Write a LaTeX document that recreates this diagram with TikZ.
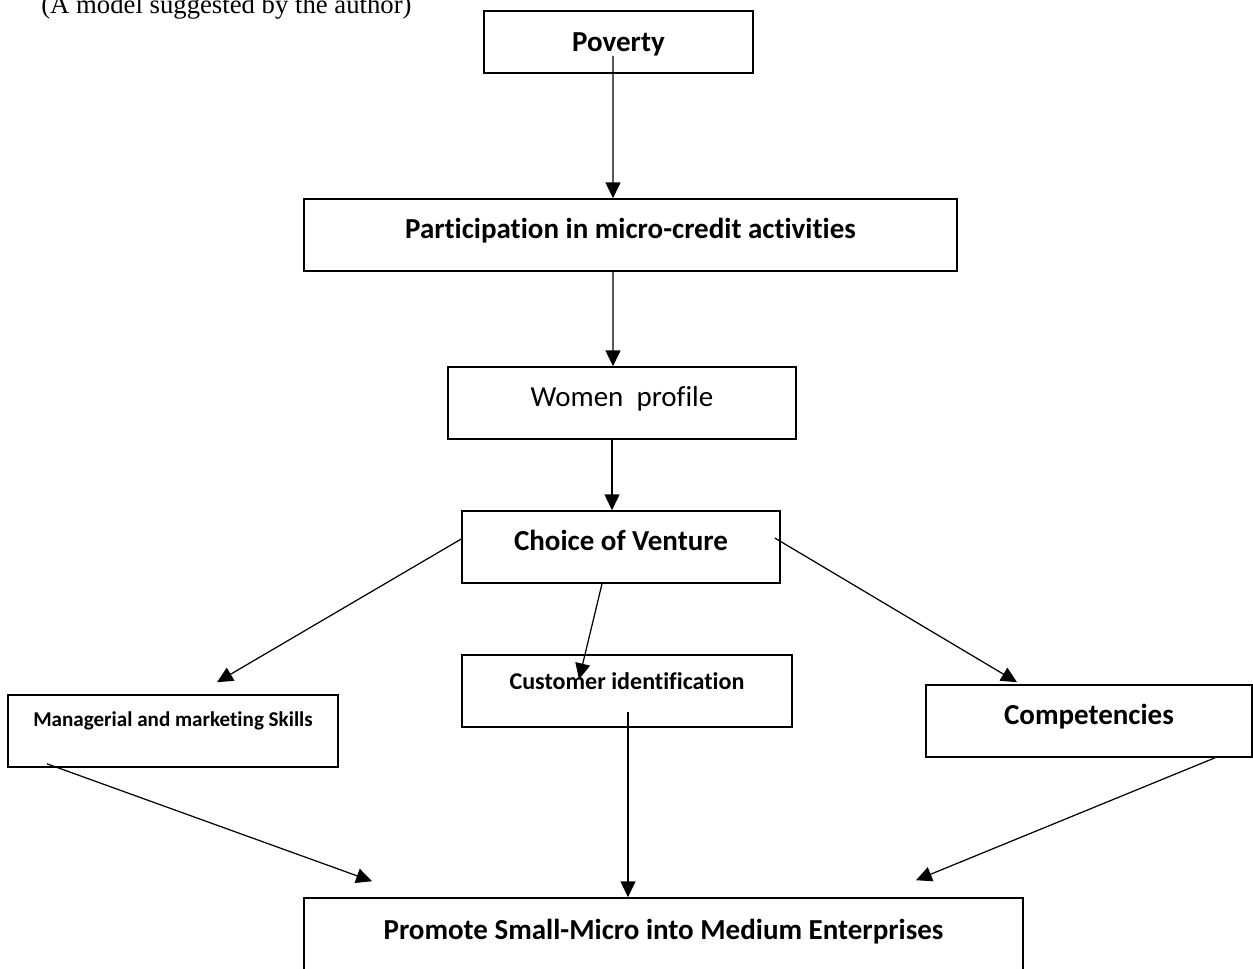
\documentclass[tikz,border=0pt]{standalone}
\usepackage{fontspec}
\setmainfont{Carlito}[Ligatures=NoCommon]
\newfontfamily\capfont{Liberation Serif}
\usepackage{xcolor}
\usetikzlibrary{arrows.meta}
\definecolor{ink}{RGB}{0,0,0}

\begin{document}
\begin{tikzpicture}[
    box/.style={draw=ink, line width=0.9pt, inner sep=0pt, minimum height=1.44cm,
                text=ink, text height=0.40cm, font=\fontsize{16.5}{19}\selectfont\bfseries},
    smallbox/.style={box, font=\fontsize{13.7}{16}\selectfont\bfseries},
    tinybox/.style={box, font=\fontsize{12}{14}\selectfont\bfseries},
    arr/.style={-{Triangle[length=9pt, width=8.5pt]}, draw=ink, line width=0.7pt},
    notetext/.style={font=\capfont\fontsize{15.2}{18}\selectfont, text=ink, inner sep=0pt}
  ]
  \useasboundingbox (0,0) rectangle (25.06,-19.36);
  % ---------------- chain ----------------
  \node[notetext, anchor=base west] (note) at (0.82,-0.27) {(A model suggested by the author)};
  \node[box, minimum width=5.38cm, minimum height=1.24cm, text depth=0.03cm] (pov) at (12.37,-0.84) {Poverty};
  \node[box, minimum width=13.06cm, text depth=0.27cm] (par) at (12.61,-4.70) {Participation in micro-credit activities};
  \node[box, minimum width=6.96cm, text depth=0.25cm, font=\fontsize{16.5}{19}\selectfont] (wom) at (12.44,-8.06) {Women~~profile};
  \node[box, minimum width=6.36cm, text depth=0.27cm] (cho) at (12.42,-10.94) {Choice of Venture};
  \draw[arr] ([xshift=-0.11cm, yshift=0.36cm]pov.south) -- ([xshift=-0.35cm]par.north);
  \draw[arr] ([xshift=-0.35cm]par.south) -- ([xshift=-0.18cm]wom.north);
  \draw[arr] ([xshift=-0.2cm]wom.south) -- ([xshift=-0.18cm]cho.north);

  % ---------------- branches ----------------
  \node[tinybox, minimum width=6.60cm, text depth=0.57cm] (man) at (3.46,-14.62) {Managerial and marketing Skills};
  \node[smallbox, minimum width=6.60cm, text depth=0.45cm] (cus) at (12.54,-13.82) {Customer identification};
  \node[box, minimum width=6.52cm, text depth=0.25cm] (com) at (21.78,-14.42) {Competencies};
  \node[box, minimum width=14.38cm, text depth=0.19cm] (pro) at (13.27,-18.68) {Promote Small-Micro into Medium Enterprises};
  \draw[arr] ([yshift=0.16cm]cho.west) -- ([xshift=0.88cm, yshift=0.24cm]man.north);
  \draw[arr] ([xshift=-0.38cm]cho.south) -- ([xshift=-0.96cm, yshift=-0.5cm]cus.north);
  \draw[arr] ([xshift=-0.12cm, yshift=0.18cm]cho.east) -- ([xshift=-1.44cm, yshift=0.04cm]com.north);
  \draw[arr] ([xshift=-2.52cm, yshift=0.08cm]man.south) -- ([xshift=-5.83cm, yshift=0.32cm]pro.north);
  \draw[arr] ([xshift=0.02cm, yshift=0.32cm]cus.south) -- ([xshift=-0.71cm]pro.north);
  \draw[arr] ([xshift=2.52cm]com.south) -- ([xshift=5.05cm, yshift=0.34cm]pro.north);
\end{tikzpicture}
\end{document}
